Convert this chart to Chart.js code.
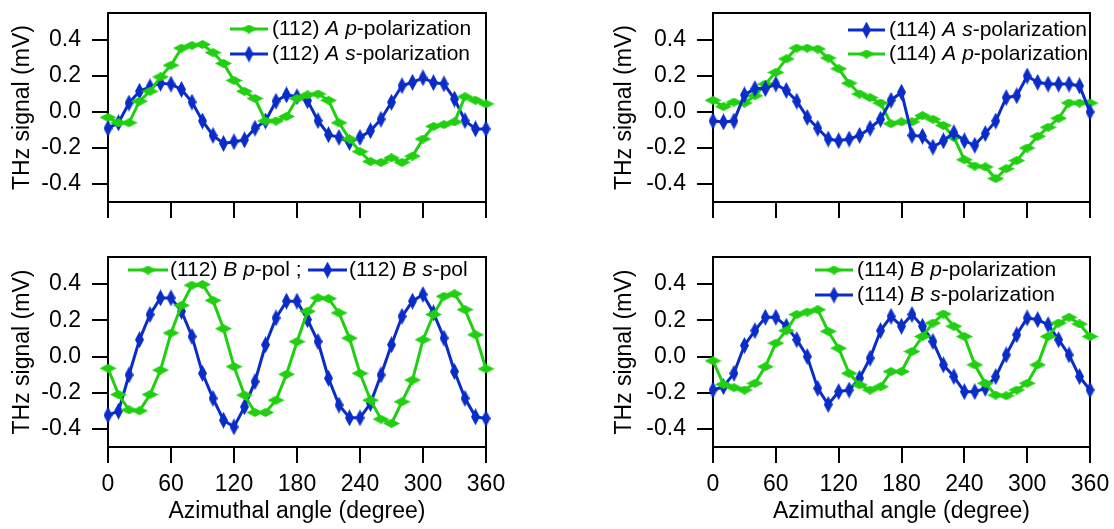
<!DOCTYPE html>
<html><head><meta charset="utf-8">
<script src="https://cdn.jsdelivr.net/npm/chart.js@4/dist/chart.umd.min.js"></script>
<style>
html,body{margin:0;padding:0;background:#fff;}
#wrap{position:relative;width:1114px;height:529px;overflow:hidden;background:#fff;}
canvas{position:absolute;}
</style></head><body>
<div id="wrap">
<canvas id="c1" width="557" height="240" style="left:0px;top:0px"></canvas>
<canvas id="c2" width="509" height="240" style="left:605px;top:0px"></canvas>
<canvas id="c3" width="557" height="289" style="left:0px;top:240px"></canvas>
<canvas id="c4" width="509" height="289" style="left:605px;top:240px"></canvas>
</div>
<script>
// ---- data ----
const angles = [0,10,20,30,40,50,60,70,80,90,100,110,120,130,140,150,160,170,180,190,200,210,220,230,240,250,260,270,280,290,300,310,320,330,340,350,360];
const xTickLabels = [0,60,120,180,240,300,360];
const yTickLabels = [-0.4,-0.2,0.0,0.2,0.4];

const a112p = [-0.03,-0.06,-0.06,0.06,0.115,0.195,0.26,0.355,0.37,0.375,0.33,0.27,0.175,0.115,0.075,-0.05,-0.05,-0.025,0.075,0.095,0.1,0.065,-0.06,-0.15,-0.22,-0.275,-0.28,-0.255,-0.28,-0.245,-0.15,-0.08,-0.07,-0.055,0.085,0.065,0.045];
const a112s = [-0.09,-0.06,0.05,0.115,0.14,0.16,0.155,0.125,0.055,-0.05,-0.13,-0.175,-0.165,-0.155,-0.09,-0.05,0.06,0.095,0.085,0.063,-0.048,-0.126,-0.141,-0.169,-0.141,-0.104,-0.04,0.054,0.146,0.165,0.19,0.163,0.156,0.072,-0.048,-0.094,-0.094];
const a114s = [-0.05,-0.055,-0.05,0.095,0.13,0.13,0.155,0.12,0.06,-0.03,-0.09,-0.15,-0.16,-0.15,-0.13,-0.09,-0.04,0.065,0.11,-0.13,-0.135,-0.195,-0.16,-0.115,-0.16,-0.185,-0.12,-0.05,0.08,0.09,0.2,0.165,0.155,0.155,0.155,0.145,0.0];
const a114p = [0.065,0.03,0.055,0.05,0.09,0.155,0.22,0.295,0.355,0.355,0.35,0.3,0.24,0.16,0.1,0.08,0.05,-0.065,-0.055,-0.055,-0.02,-0.04,-0.075,-0.14,-0.265,-0.3,-0.305,-0.37,-0.315,-0.27,-0.2,-0.135,-0.085,-0.035,0.05,0.05,0.05];
const b112p = [-0.065,-0.21,-0.295,-0.3,-0.21,-0.075,0.13,0.283,0.394,0.398,0.31,0.154,-0.056,-0.213,-0.309,-0.309,-0.241,-0.098,0.082,0.25,0.324,0.32,0.241,0.102,-0.093,-0.241,-0.346,-0.37,-0.25,-0.13,0.093,0.232,0.333,0.346,0.259,0.12,-0.068];
const b112s = [-0.324,-0.302,-0.102,0.093,0.232,0.324,0.324,0.25,0.111,-0.093,-0.231,-0.352,-0.389,-0.278,-0.139,0.065,0.213,0.306,0.306,0.204,0.083,-0.12,-0.268,-0.339,-0.339,-0.259,-0.102,0.065,0.222,0.306,0.343,0.241,0.102,-0.083,-0.231,-0.333,-0.342];
const b114p = [-0.024,-0.154,-0.172,-0.185,-0.148,-0.056,0.074,0.143,0.232,0.246,0.259,0.139,0.046,-0.093,-0.157,-0.185,-0.167,-0.083,-0.083,0.028,0.111,0.185,0.235,0.167,0.111,-0.046,-0.148,-0.213,-0.217,-0.185,-0.148,-0.046,0.111,0.185,0.217,0.18,0.111];
const b114s = [-0.185,-0.167,-0.093,0.061,0.143,0.217,0.217,0.167,0.093,0.0,-0.176,-0.265,-0.194,-0.185,-0.12,-0.009,0.143,0.222,0.167,0.232,0.167,0.083,-0.046,-0.111,-0.194,-0.194,-0.176,-0.111,0.009,0.12,0.213,0.204,0.176,0.093,0.009,-0.111,-0.185];

// ---- styles ----
const GREEN = 'rgb(32,208,16)';
const BLUE = 'rgb(10,45,200)';
const FONT = '"Liberation Sans", Arial, Helvetica, sans-serif';

function diamond(w, h, color) {
  const c = document.createElement('canvas');
  c.width = w; c.height = h;
  const x = c.getContext('2d');
  x.fillStyle = color;
  x.beginPath();
  x.moveTo(w/2, 0); x.lineTo(w, h/2); x.lineTo(w/2, h); x.lineTo(0, h/2);
  x.closePath(); x.fill();
  return c;
}
const greenMark = diamond(17, 9, GREEN);
const blueMark = diamond(9, 17, BLUE);

function series(vals, color, mark, label) {
  return {
    label: label,
    data: angles.map((a, i) => ({x: a, y: vals[i]})),
    borderColor: color, backgroundColor: color,
    borderWidth: 3, tension: 0,
    pointStyle: mark, pointRadius: 4,
    clip: false
  };
}

const framePlugin = {
  id: 'frame',
  beforeDatasetsDraw(chart) {
    const {ctx, chartArea: a} = chart;
    ctx.save();
    ctx.strokeStyle = '#000'; ctx.lineWidth = 2;
    ctx.strokeRect(Math.round(a.left), Math.round(a.top), Math.round(a.right - a.left), Math.round(a.bottom - a.top));
    ctx.restore();
  }
};

const legendPlugin = {
  id: 'mixLegend',
  afterDatasetsDraw(chart, args, opts) {
    const ctx = chart.ctx;
    const ox = opts.ox, oy = opts.oy;
    (opts.items || []).forEach(it => {
      const ds = chart.data.datasets[it.ds];
      const y = it.y - oy;
      ctx.save();
      ctx.strokeStyle = ds.borderColor; ctx.lineWidth = 3;
      ctx.beginPath(); ctx.moveTo(it.x0 - ox, y); ctx.lineTo(it.x1 - ox, y); ctx.stroke();
      const m = ds.pointStyle;
      ctx.drawImage(m, (it.x0 + it.x1)/2 - ox - m.width/2, y - m.height/2);
      let tx = it.tx - ox;
      ctx.fillStyle = '#000'; ctx.textBaseline = 'middle'; ctx.textAlign = 'left';
      it.parts.forEach(p => {
        ctx.font = (p[1] ? 'italic ' : '') + '21px ' + FONT;
        ctx.fillText(p[0], tx, y);
        tx += ctx.measureText(p[0]).width;
      });
      ctx.restore();
    });
  }
};

function makeChart(id, datasets, o) {
  new Chart(document.getElementById(id), {
    type: 'line',
    data: {datasets: datasets},
    plugins: [framePlugin, legendPlugin],
    options: {
      responsive: false, animation: false, events: [],
      layout: {autoPadding: false, padding: {left: 0, top: o.padTop, right: o.padRight, bottom: 0}},
      plugins: {legend: {display: false}, tooltip: {enabled: false},
        mixLegend: {ox: o.ox, oy: o.oy, items: o.legend}},
      scales: {
        x: {
          type: 'linear', min: 0, max: 360,
          afterBuildTicks: s => { s.ticks = xTickLabels.map(v => ({value: v})); },
          afterFit: s => { s.height = o.xHeight; s.paddingLeft = 0; s.paddingRight = 0; s.paddingTop = 0; s.paddingBottom = 0; },
          grid: {drawOnChartArea: false, drawTicks: true, tickLength: 16, color: '#000', lineWidth: 2},
          border: {display: true, color: '#000', width: 2},
          ticks: {display: o.showX, padding: 8, color: '#000', maxRotation: 0, autoSkip: false,
                  font: {family: FONT, size: 23}, callback: v => String(v)},
          title: {display: o.showX, text: 'Azimuthal angle (degree)', color: '#000',
                  font: {family: FONT, size: 23}, padding: {top: 0, bottom: 4}}
        },
        y: {
          type: 'linear', min: -0.5, max: 0.55,
          afterBuildTicks: s => { s.ticks = yTickLabels.map(v => ({value: v})); },
          afterFit: s => { s.width = 108; s.paddingLeft = 0; s.paddingRight = 0; s.paddingTop = 0; s.paddingBottom = 0; },
          grid: {drawOnChartArea: false, drawTicks: true, tickLength: 16, color: '#000', lineWidth: 2},
          border: {display: true, color: '#000', width: 2},
          ticks: {padding: 11, color: '#000', font: {family: FONT, size: 23}, callback: v => v.toFixed(1)},
          title: {display: true, text: 'THz signal (mV)', color: '#000',
                  font: {family: FONT, size: 23}, padding: {top: o.yTitlePad, bottom: 0}}
        }
      }
    }
  });
}

// top-left: (112) A
makeChart('c1', [
  series(a112p, GREEN, greenMark, '(112) A p-polarization'),
  series(a112s, BLUE, blueMark, '(112) A s-polarization')
], {padTop: 13, padRight: 71, xHeight: 38, showX: false, yTitlePad: 9, ox: 0, oy: 0,
  legend: [
    {ds: 0, x0: 230, x1: 268, tx: 272, y: 29, parts: [['(112) ', 0], ['A', 1], [' ', 0], ['p', 1], ['-polarization', 0]]},
    {ds: 1, x0: 230, x1: 268, tx: 272, y: 54, parts: [['(112) ', 0], ['A', 1], [' ', 0], ['s', 1], ['-polarization', 0]]}
  ]});

// top-right: (114) A
makeChart('c2', [
  series(a114s, BLUE, blueMark, '(114) A s-polarization'),
  series(a114p, GREEN, greenMark, '(114) A p-polarization')
], {padTop: 13, padRight: 24, xHeight: 38, showX: false, yTitlePad: 6, ox: 605, oy: 0,
  legend: [
    {ds: 0, x0: 848, x1: 885, tx: 889, y: 30, parts: [['(114) ', 0], ['A', 1], [' ', 0], ['s', 1], ['-polarization', 0]]},
    {ds: 1, x0: 848, x1: 885, tx: 889, y: 54, parts: [['(114) ', 0], ['A', 1], [' ', 0], ['p', 1], ['-polarization', 0]]}
  ]});

// bottom-left: (112) B
makeChart('c3', [
  series(b112p, GREEN, greenMark, '(112) B p-pol'),
  series(b112s, BLUE, blueMark, '(112) B s-pol')
], {padTop: 17, padRight: 71, xHeight: 82, showX: true, yTitlePad: 9, ox: 0, oy: 240,
  legend: [
    {ds: 0, x0: 128, x1: 168, tx: 170, y: 270, parts: [['(112) ', 0], ['B', 1], [' ', 0], ['p', 1], ['-pol ;', 0]]},
    {ds: 1, x0: 308, x1: 347, tx: 349, y: 270, parts: [['(112) ', 0], ['B', 1], [' ', 0], ['s', 1], ['-pol', 0]]}
  ]});

// bottom-right: (114) B
makeChart('c4', [
  series(b114p, GREEN, greenMark, '(114) B p-polarization'),
  series(b114s, BLUE, blueMark, '(114) B s-polarization')
], {padTop: 17, padRight: 24, xHeight: 82, showX: true, yTitlePad: 6, ox: 605, oy: 240,
  legend: [
    {ds: 0, x0: 815, x1: 853, tx: 857, y: 270, parts: [['(114) ', 0], ['B', 1], [' ', 0], ['p', 1], ['-polarization', 0]]},
    {ds: 1, x0: 815, x1: 853, tx: 857, y: 295, parts: [['(114) ', 0], ['B', 1], [' ', 0], ['s', 1], ['-polarization', 0]]}
  ]});
</script>
</body></html>
